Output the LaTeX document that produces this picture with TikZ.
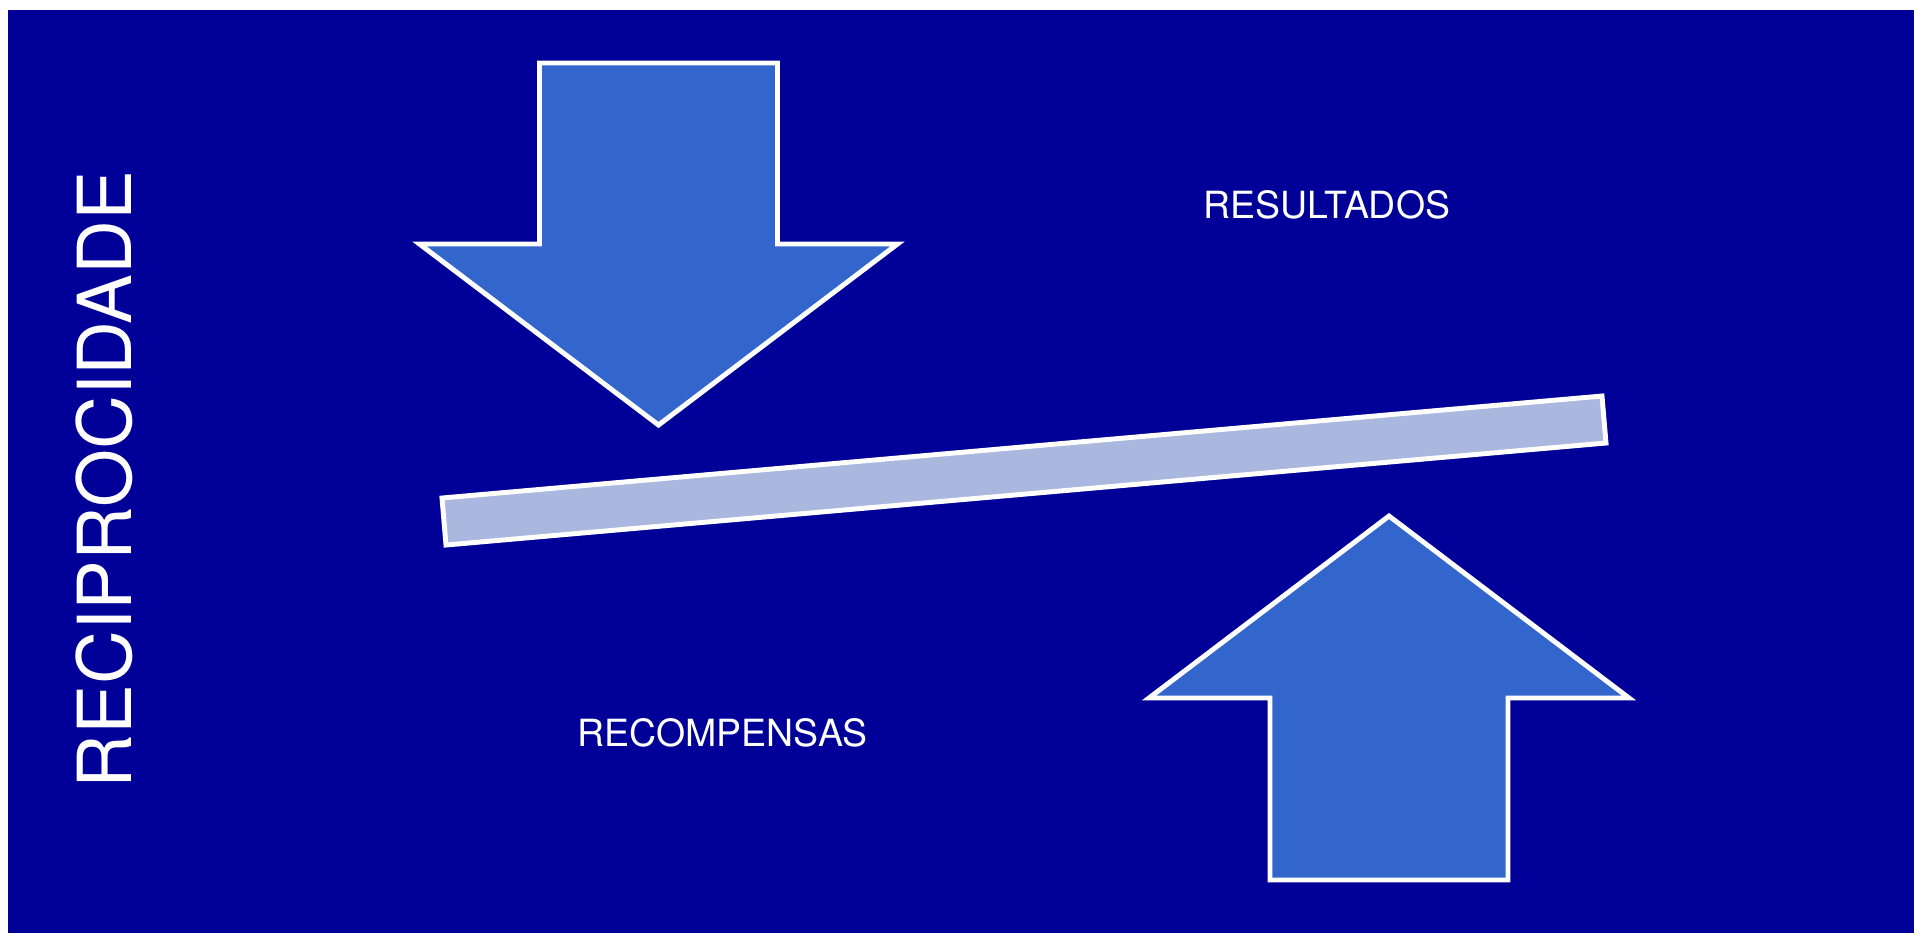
\documentclass[tikz,border=0pt]{standalone}
\usepackage{fontspec}
\setmainfont{TeX Gyre Heros}
\usepackage{tikz}
\definecolor{bgblue}{RGB}{0,0,153}
\definecolor{arrowblue}{RGB}{51,102,204}
\definecolor{barblue}{RGB}{170,184,224}
\tikzset{
  bigarrow/.style={fill=arrowblue, draw=white, line width=1.4pt},
  beam/.style={fill=barblue, draw=white, line width=1.4pt},
  word/.style={text=white, inner sep=0pt, anchor=base west,
    font=\fontsize{10.65pt}{12pt}\selectfont},
  title/.style={word, rotate=90, font=\fontsize{21.2pt}{24pt}\selectfont}
}

\begin{document}
\begin{tikzpicture}[x=0.01cm, y=-0.01cm]

% --- Background ---
\useasboundingbox (0,0) rectangle (1914,932);
\fill[bgblue] (8,10) rectangle (1915,933);

% --- Down Arrow (top left) ---
\coordinate (D1) at (539.5,63);
\coordinate (D2) at (777.5,63);
\coordinate (D3) at (777.5,244);
\coordinate (D4) at (897.5,244);
\coordinate (D5) at (658.5,425);
\coordinate (D6) at (419.5,244);
\coordinate (D7) at (539.5,244);
\draw[bigarrow] (D1) -- (D2) -- (D3) -- (D4) -- (D5) -- (D6) -- (D7) -- cycle;

% --- Up Arrow (bottom right) ---
\coordinate (U1) at (1270,880);
\coordinate (U2) at (1508,880);
\coordinate (U3) at (1508,698);
\coordinate (U4) at (1629,698);
\coordinate (U5) at (1389,516);
\coordinate (U6) at (1149,698);
\coordinate (U7) at (1270,698);
\draw[bigarrow] (U1) -- (U2) -- (U3) -- (U4) -- (U5) -- (U6) -- (U7) -- cycle;

% --- Tilted Bar ---
\coordinate (B1) at (442,498);
\coordinate (B2) at (1602,396);
\coordinate (B3) at (1606,443);
\coordinate (B4) at (446,545);
\draw[beam] (B1) -- (B2) -- (B3) -- (B4) -- cycle;

% Labels
\node[word] (res) at (1203,218) {RESULTADOS};
\node[word] (rec) at (577,746) {RECOMPENSAS};
\node[title] (recip) at (131,789) {RECIPROCIDADE};

\end{tikzpicture}
\end{document}
